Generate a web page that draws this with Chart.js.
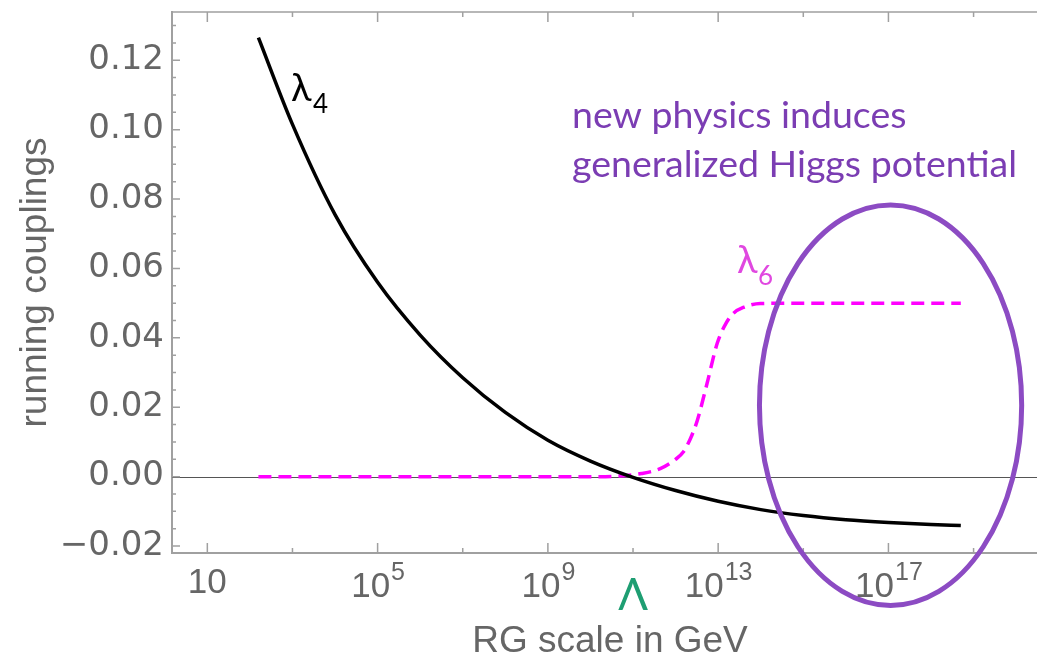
<!DOCTYPE html>
<html>
<head>
<meta charset="utf-8">
<script src="https://cdn.jsdelivr.net/npm/chart.js@4.4.1/dist/chart.umd.min.js"></script>
<style>
  html, body { margin: 0; padding: 0; background: #fff; }
  canvas { display: block; }
</style>
</head>
<body>
<canvas id="couplings" width="1037" height="654"></canvas>
<script>
// x values are log10 of the RG scale in GeV
const lambda4Scale = [2.2, 3, 4, 5, 6, 7, 8, 9, 10, 11, 12, 13, 14, 15, 16, 17, 18, 18.7];
const lambda4 = [0.1265, 0.1015, 0.0755, 0.0560, 0.0408, 0.0285, 0.0185, 0.0105, 0.0045, -0.0002,
                 -0.0040, -0.0071, -0.0095, -0.0112, -0.0124, -0.0132, -0.0138, -0.0141];

const lambda6Scale = [2.2, 6, 10, 10.7, 11.2, 11.64, 12.0, 12.18, 12.35, 12.51, 12.74, 12.98, 13.2, 13.36, 13.6, 13.99, 15, 18.7];
const lambda6 = [0, 0, 0, 0.0002, 0.0009, 0.0023, 0.0050, 0.0071, 0.0110, 0.0162, 0.0269, 0.0385,
                 0.0445, 0.0471, 0.0488, 0.0499, 0.05, 0.05];

const xMajorTicks = [1, 5, 9, 13, 17];
const xMinorTicks = [3, 7, 11, 15, 19];
const yMajorTicks = [-0.02, 0, 0.02, 0.04, 0.06, 0.08, 0.10, 0.12];
const yMinorStep = 0.005;

// Λ sits at 10^11 GeV
const cutoffScale = 11;
// ring around the high-scale region (centre and half-axes in data units)
const ringCenter = [17.05, 0.0206];
const ringRadii = [3.08, 0.0577];

const axisGray = '#a0a0a0';
const labelGray = '#666666';
const sans = '"Liberation Sans", Arial, sans-serif';

const toPoints = (xs, ys) => xs.map((v, i) => ({ x: v, y: ys[i] }));

const frame = {
  id: 'frame',
  beforeDatasetsDraw(chart) {
    const { ctx, chartArea: a, scales: { x, y } } = chart;
    ctx.save();
    // zero line
    ctx.strokeStyle = '#555';
    ctx.lineWidth = 1;
    const y0 = Math.round(y.getPixelForValue(0)) + 0.5;
    ctx.beginPath();
    ctx.moveTo(a.left, y0);
    ctx.lineTo(a.right, y0);
    ctx.stroke();

    ctx.strokeStyle = axisGray;
    ctx.lineWidth = 1.5;
    ctx.beginPath();
    ctx.moveTo(a.left, a.top);
    ctx.lineTo(a.right, a.top);
    xMajorTicks.concat(xMinorTicks).forEach(v => {
      const px = x.getPixelForValue(v);
      const len = xMajorTicks.includes(v) ? 10 : 5;
      ctx.moveTo(px, a.bottom);
      ctx.lineTo(px, a.bottom - len);
      ctx.moveTo(px, a.top);
      ctx.lineTo(px, a.top + len);
    });
    for (let k = -4; k <= 26; k++) {
      const py = y.getPixelForValue(k * yMinorStep);
      const len = k % 4 === 0 ? 8 : 4;
      ctx.moveTo(a.left, py);
      ctx.lineTo(a.left + len, py);
    }
    ctx.stroke();
    ctx.restore();
  },
  afterDatasetsDraw(chart) {
    const { ctx, scales: { x, y } } = chart;
    const cx = x.getPixelForValue(ringCenter[0]);
    const cy = y.getPixelForValue(ringCenter[1]);
    const rx = x.getPixelForValue(ringCenter[0] + ringRadii[0]) - cx;
    const ry = cy - y.getPixelForValue(ringCenter[1] + ringRadii[1]);
    ctx.save();
    ctx.strokeStyle = '#8c4bc3';
    ctx.lineWidth = 5;
    ctx.beginPath();
    ctx.ellipse(cx, cy, rx, ry, 0, 0, Math.PI * 2);
    ctx.stroke();
    ctx.restore();
  },
  afterDraw(chart) {
    const { ctx, scales: { x } } = chart;
    ctx.save();
    ctx.textBaseline = 'alphabetic';

    // x tick labels with exponents
    ctx.fillStyle = labelGray;
    xMajorTicks.forEach(v => {
      const px = x.getPixelForValue(v);
      ctx.font = '35px ' + sans;
      if (v === 1) {
        ctx.textAlign = 'center';
        ctx.fillText('10', px, 593);
        return;
      }
      ctx.textAlign = 'left';
      const base = ctx.measureText('10').width;
      ctx.font = '25px ' + sans;
      const sup = ctx.measureText(String(v)).width;
      const left = px - (base + sup) / 2;
      ctx.font = '35px ' + sans;
      ctx.fillText('10', left, 597);
      ctx.font = '25px ' + sans;
      ctx.fillText(String(v), left + base + 1, 580);
    });

    // x axis title
    ctx.font = '37px ' + sans;
    ctx.textAlign = 'center';
    ctx.fillText('RG scale in GeV', 610, 652);

    // Λ marker under the axis
    ctx.fillStyle = '#1e9e72';
    ctx.font = '44px Lato, sans-serif';
    ctx.fillText('Λ', x.getPixelForValue(cutoffScale), 610);

    // curve labels
    ctx.textAlign = 'left';
    ctx.fillStyle = '#000';
    ctx.font = '38px Lato, sans-serif';
    ctx.fillText('λ', 291, 101);
    ctx.font = '26px Lato, sans-serif';
    ctx.fillText('4', 313, 113);

    ctx.fillStyle = '#e048e0';
    ctx.font = '38px Lato, sans-serif';
    ctx.fillText('λ', 737, 273);
    ctx.font = '26px Lato, sans-serif';
    ctx.fillText('6', 758, 285);

    // annotation
    ctx.fillStyle = '#7b3db3';
    ctx.font = '37.5px Lato, sans-serif';
    ctx.fillText('new physics induces', 572, 128);
    ctx.fillText('generalized Higgs potential', 572, 177);
    ctx.restore();
  }
};

function draw() {
  new Chart(document.getElementById('couplings'), {
    type: 'line',
    data: {
      datasets: [
        {
          label: 'λ4',
          data: toPoints(lambda4Scale, lambda4),
          borderColor: '#000',
          borderWidth: 3.5,
          cubicInterpolationMode: 'monotone',
          pointRadius: 0,
          fill: false
        },
        {
          label: 'λ6',
          data: toPoints(lambda6Scale, lambda6),
          borderColor: '#ff00ff',
          borderWidth: 3.5,
          borderDash: [13, 7],
          cubicInterpolationMode: 'monotone',
          pointRadius: 0,
          fill: false
        }
      ]
    },
    options: {
      responsive: false,
      animation: false,
      layout: { padding: { top: 12, right: 0, bottom: 0, left: 0 } },
      plugins: { legend: { display: false }, tooltip: { enabled: false } },
      scales: {
        x: {
          type: 'linear',
          min: 0.17,
          max: 20.49,
          afterBuildTicks: s => { s.ticks = xMajorTicks.map(v => ({ value: v })); },
          afterFit: s => { s.height = 101; s.paddingLeft = 0; s.paddingRight = 0; },
          ticks: { display: false },
          grid: { display: false, drawTicks: false },
          border: { display: true, color: axisGray, width: 2 }
        },
        y: {
          min: -0.022,
          max: 0.1339,
          afterBuildTicks: s => { s.ticks = yMajorTicks.map(v => ({ value: v })); },
          afterFit: s => { s.width = 172; s.paddingTop = 0; s.paddingBottom = 0; },
          ticks: {
            color: labelGray,
            padding: 8,
            font: { family: '"DejaVu Sans", sans-serif', size: 34 },
            callback: v => (v < -1e-9 ? '\u2212' : '') + Math.abs(v).toFixed(2)
          },
          grid: { display: false, drawTicks: false },
          border: { display: true, color: axisGray, width: 2 },
          title: {
            display: true,
            text: 'running couplings',
            color: labelGray,
            font: { family: sans, size: 37 },
            padding: { top: 14 }
          }
        }
      }
    },
    plugins: [frame]
  });
}

Promise.all([
  document.fonts.load('33px Lato'),
  document.fonts.load('34px "Liberation Sans"'),
  document.fonts.load('34px "DejaVu Sans"')
]).then(draw, draw);
</script>
</body>
</html>
